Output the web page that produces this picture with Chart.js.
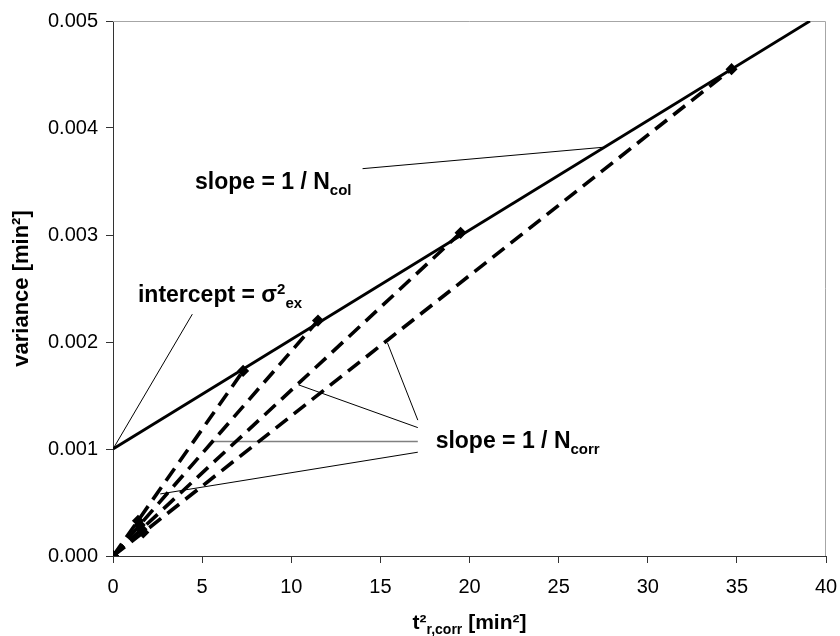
<!DOCTYPE html>
<html>
<head>
<meta charset="utf-8">
<script src="https://cdn.jsdelivr.net/npm/chart.js@4.4.1/dist/chart.umd.min.js"></script>
<style>
  body { margin: 0; background: #fff; }
  #wrap { width: 840px; height: 636px; }
</style>
</head>
<body>
<div id="wrap"><canvas id="chart" width="840" height="636"></canvas></div>
<script>
// column line: variance = sigma²ex + t²/Ncol
const colX = [0, 39.1];
const colY = [0.001, 0.005];

// corrected lines through origin, one per run
const corrX = [
  [0, 1.4, 7.3],
  [0, 1.5, 11.5],
  [0, 1.6, 19.5],
  [0, 1.7, 34.7]
];
const corrY = [
  [0, 0.00033, 0.00173],
  [0, 0.00029, 0.0022],
  [0, 0.00025, 0.00302],
  [0, 0.00022, 0.00455]
];

// leader lines for the labels (x pairs, y pairs)
const leadInterceptX = [0, 4.45];
const leadInterceptY = [0.001, 0.00226];
const leadColX = [14.0, 27.5];
const leadColY = [0.00362, 0.00382];
const leadCorrX = [[17.1, 15.4], [17.1, 10.4], [17.1, 5.6], [17.1, 2.65]];
const leadCorrY = [[0.00127, 0.00199], [0.0012, 0.0016], [0.00107, 0.00107], [0.00097, 0.00058]];

const xTicks = [0, 5, 10, 15, 20, 25, 30, 35, 40];
const yTicks = [0, 0.001, 0.002, 0.003, 0.004, 0.005];

const FONT = '"Liberation Sans", Arial, sans-serif';

function pts(xs, ys) {
  return xs.map((x, i) => ({ x: x, y: ys[i] }));
}

function leader(xs, ys, color, width) {
  return {
    data: pts(xs, ys),
    showLine: true,
    borderColor: color || '#000',
    borderWidth: width || 1,
    pointRadius: 0,
    order: 5
  };
}

const datasets = [];

datasets.push({
  data: pts(colX, colY),
  showLine: true,
  borderColor: '#000',
  borderWidth: 2.8,
  pointRadius: 0,
  order: 1
});

corrX.forEach((xs, i) => {
  datasets.push({
    data: pts(xs, corrY[i]),
    showLine: true,
    borderColor: '#000',
    borderWidth: 3.6,
    borderDash: [15, 8],
    pointStyle: 'rectRot',
    pointRadius: 3.5,
    pointBackgroundColor: '#000',
    pointBorderColor: '#000',
    order: 2
  });
});

datasets.push(leader(leadInterceptX, leadInterceptY));
datasets.push(leader(leadColX, leadColY));
leadCorrX.forEach((xs, i) => {
  datasets.push(leader(xs, leadCorrY[i], i === 2 ? '#808080' : '#000', i === 2 ? 1.6 : 1));
});

// text with sub / superscripts, parts = [[text, 'n'|'sub'|'sup'], ...]
function richWidth(ctx, parts, size, weight) {
  let w = 0;
  parts.forEach(p => {
    const s = p[1] === 'n' ? size : Math.round(size * 0.65);
    ctx.font = weight + ' ' + s + 'px ' + FONT;
    w += ctx.measureText(p[0]).width;
  });
  return w;
}

function drawRich(ctx, x, y, parts, size, weight) {
  ctx.textBaseline = 'alphabetic';
  ctx.textAlign = 'left';
  ctx.fillStyle = '#000';
  parts.forEach(p => {
    let s = size, dy = 0;
    if (p[1] === 'sub') { s = Math.round(size * 0.65); dy = size * 0.25; }
    if (p[1] === 'sup') { s = Math.round(size * 0.65); dy = -size * 0.38; }
    ctx.font = weight + ' ' + s + 'px ' + FONT;
    ctx.fillText(p[0], x, y + dy);
    x += ctx.measureText(p[0]).width;
  });
}

const labels = [
  { x: 4.6, y: 0.00343, parts: [['slope = 1 / N', 'n'], ['col', 'sub']] },
  { x: 1.4, y: 0.00237, parts: [['intercept = σ', 'n'], ['2', 'sup'], ['ex', 'sub']] },
  { x: 18.1, y: 0.00101, parts: [['slope = 1 / N', 'n'], ['corr', 'sub']] }
];

const decorations = {
  id: 'decorations',
  beforeDatasetsDraw(chart) {
    const { ctx, chartArea: a } = chart;
    ctx.save();
    ctx.strokeStyle = '#a6a6a6';
    ctx.lineWidth = 1;
    ctx.beginPath();
    ctx.moveTo(a.left, a.top + 0.5);
    ctx.lineTo(a.right - 0.5, a.top + 0.5);
    ctx.lineTo(a.right - 0.5, a.bottom);
    ctx.stroke();
    ctx.restore();
  },
  afterDatasetsDraw(chart) {
    const { ctx, chartArea: a, scales } = chart;
    ctx.save();
    labels.forEach(l => {
      drawRich(ctx, scales.x.getPixelForValue(l.x), scales.y.getPixelForValue(l.y), l.parts, 23, 'bold');
    });

    // x axis title
    const xt = [['t²', 'n'], ['r,corr', 'sub'], [' [min²]', 'n']];
    const w = richWidth(ctx, xt, 21, 'bold');
    drawRich(ctx, (a.left + a.right) / 2 - w / 2, 629, xt, 21, 'bold');

    // y axis title
    ctx.translate(22, (a.top + a.bottom) / 2);
    ctx.rotate(-Math.PI / 2);
    ctx.font = 'bold 22px ' + FONT;
    ctx.textAlign = 'center';
    ctx.textBaseline = 'middle';
    ctx.fillStyle = '#000';
    ctx.fillText('variance [min²]', 0, 0);
    ctx.restore();
  }
};

new Chart(document.getElementById('chart'), {
  type: 'scatter',
  data: { datasets: datasets },
  options: {
    responsive: false,
    animation: false,
    events: [],
    layout: { padding: { top: 21, right: 14, left: 0, bottom: 0 } },
    plugins: {
      legend: { display: false },
      tooltip: { enabled: false }
    },
    scales: {
      x: {
        type: 'linear',
        min: 0,
        max: 40,
        afterFit: s => { s.height = 80; s.paddingLeft = 0; s.paddingRight = 0; },
        afterBuildTicks: s => { s.ticks = xTicks.map(v => ({ value: v })); },
        ticks: { color: '#000', font: { family: FONT, size: 20 }, padding: 12, maxRotation: 0 },
        grid: { display: true, drawOnChartArea: false, drawTicks: true, tickLength: 7, color: '#333' },
        border: { display: true, color: '#333', width: 1 }
      },
      y: {
        min: 0,
        max: 0.005,
        afterFit: s => { s.width = 113; s.paddingTop = 0; s.paddingBottom = 0; },
        afterBuildTicks: s => { s.ticks = yTicks.map(v => ({ value: v })); },
        ticks: {
          color: '#000',
          font: { family: FONT, size: 20 },
          padding: 8,
          callback: v => v.toFixed(3)
        },
        grid: { display: true, drawOnChartArea: false, drawTicks: true, tickLength: 7, color: '#333' },
        border: { display: true, color: '#333', width: 1 }
      }
    }
  },
  plugins: [decorations]
});
</script>
</body>
</html>
